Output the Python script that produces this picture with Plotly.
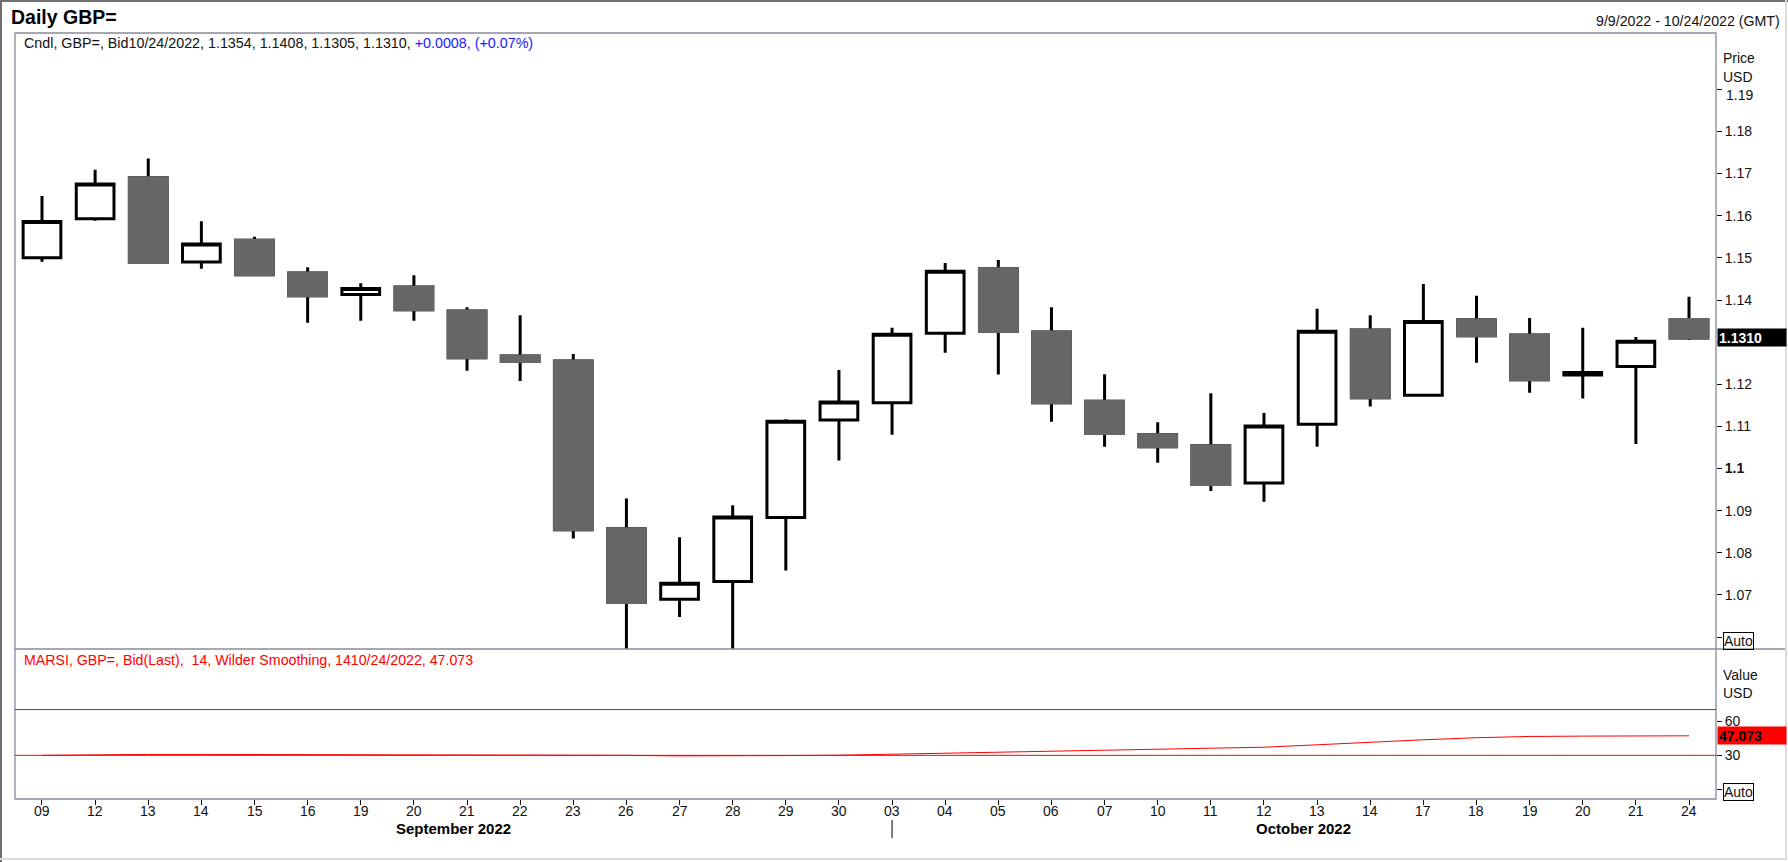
import plotly.graph_objects as go

W, H = 1788, 862

# ---------------- data ----------------
dates = ["2022-09-09", "2022-09-12", "2022-09-13", "2022-09-14", "2022-09-15", "2022-09-16",
         "2022-09-19", "2022-09-20", "2022-09-21", "2022-09-22", "2022-09-23", "2022-09-26",
         "2022-09-27", "2022-09-28", "2022-09-29", "2022-09-30", "2022-10-03", "2022-10-04",
         "2022-10-05", "2022-10-06", "2022-10-07", "2022-10-10", "2022-10-11", "2022-10-12",
         "2022-10-13", "2022-10-14", "2022-10-17", "2022-10-18", "2022-10-19", "2022-10-20",
         "2022-10-21", "2022-10-24"]
day_labels = ["09", "12", "13", "14", "15", "16", "19", "20", "21", "22", "23", "26", "27", "28",
              "29", "30", "03", "04", "05", "06", "07", "10", "11", "12", "13", "14", "17", "18",
              "19", "20", "21", "24"]
open_ = [1.1500, 1.1593, 1.1690, 1.1490, 1.1542, 1.1464, 1.1413, 1.1431, 1.1374, 1.1267, 1.1255,
         1.0857, 1.0690, 1.0732, 1.0884, 1.1115, 1.1156, 1.1321, 1.1474, 1.1324, 1.1160, 1.1080,
         1.1054, 1.0966, 1.1105, 1.1329, 1.1174, 1.1353, 1.1317, 1.1222, 1.1242, 1.1354]
high = [1.1647, 1.1709, 1.1736, 1.1587, 1.1550, 1.1478, 1.1440, 1.1459, 1.1383, 1.1364, 1.1272,
        1.0929, 1.0837, 1.0913, 1.1117, 1.1234, 1.1334, 1.1488, 1.1495, 1.1383, 1.1224, 1.1110,
        1.1179, 1.1132, 1.1379, 1.1364, 1.1438, 1.1410, 1.1357, 1.1334, 1.1312, 1.1408]
low = [1.1491, 1.1588, 1.1486, 1.1474, 1.1458, 1.1346, 1.1351, 1.1351, 1.1232, 1.1208, 1.0834,
       1.0350, 1.0648, 1.0540, 1.0758, 1.1019, 1.1080, 1.1275, 1.1223, 1.1111, 1.1052, 1.1014,
       1.0947, 1.0921, 1.1052, 1.1147, 1.1172, 1.1251, 1.1180, 1.1166, 1.1058, 1.1305]
close = [1.1586, 1.1675, 1.1489, 1.1533, 1.1460, 1.1410, 1.1427, 1.1377, 1.1263, 1.1254, 1.0855,
         1.0682, 1.0728, 1.0885, 1.1112, 1.1158, 1.1319, 1.1468, 1.1325, 1.1156, 1.1083, 1.1052,
         1.0962, 1.1101, 1.1326, 1.1168, 1.1349, 1.1315, 1.1211, 1.1228, 1.1302, 1.1310]
rsi = [30.0, 30.6, 30.8, 30.8, 30.7, 30.7, 30.6, 30.6, 30.5, 30.5, 30.4, 30.0, 29.5, 29.4, 29.8,
       30.1, 30.9, 31.7, 32.6, 33.5, 34.4, 35.2, 36.1, 37.1, 39.2, 41.6, 43.6, 45.4, 46.5, 46.8,
       46.95, 47.073]
rsi_bands = [30, 70]
price_ticks = [1.06, 1.07, 1.08, 1.09, 1.10, 1.11, 1.12, 1.13, 1.14, 1.15, 1.16, 1.17, 1.18, 1.19]
rsi_ticks = [0, 30, 60]
months = [("September 2022", 7.75), ("October 2022", 23.75)]

FONT = "Liberation Sans, Arial, sans-serif"
BORDER = "#8a8a9a"
GRAY = "#666666"
TXT = "#111111"


def px(x):
    return x / W


def py(y):
    return 1 - y / H


fig = go.Figure()

# all candles: black outlines / wicks
fig.add_trace(go.Candlestick(
    x=dates, open=open_, high=high, low=low, close=close,
    xaxis="x", yaxis="y", whiskerwidth=0, hoverinfo="skip",
    increasing=dict(line=dict(color="black", width=3), fillcolor="white"),
    decreasing=dict(line=dict(color="black", width=3), fillcolor=GRAY),
))
# grey bodies of falling candles drawn over the black outline
dn = [i for i in range(len(dates)) if close[i] < open_[i]]
fig.add_trace(go.Candlestick(
    x=[dates[i] for i in dn], open=[open_[i] for i in dn], close=[close[i] for i in dn],
    high=[open_[i] for i in dn], low=[close[i] for i in dn],
    xaxis="x", yaxis="y", whiskerwidth=0, hoverinfo="skip",
    increasing=dict(line=dict(color=GRAY, width=3), fillcolor=GRAY),
    decreasing=dict(line=dict(color=GRAY, width=3), fillcolor=GRAY),
))

fig.add_trace(go.Scatter(x=dates, y=rsi, mode="lines", xaxis="x2", yaxis="y2",
                         line=dict(color="#ff0000", width=1), hoverinfo="skip"))

xrange = [-0.508, len(dates) - 1 + 0.508]
xdom = [px(15), px(1716)]

last = len(dates) - 1

# price tick labels: first tick is the "Auto" box, top tick is drawn separately (shifted down),
# the tick under the last-price box is hidden by it
price_text = []
for v in price_ticks:
    if abs(v - price_ticks[0]) < 1e-9 or abs(v - price_ticks[-1]) < 1e-9:
        price_text.append("")
    elif abs(v - round(close[last], 2)) < 1e-9:
        price_text.append("")
    elif abs(v - 1.10) < 1e-9:
        price_text.append("<b>1.1</b>")
    else:
        price_text.append(f"{v:.2f}")

rsi_text = ["" if v == 0 else str(v) for v in rsi_ticks]

axfont = dict(family=FONT, size=14, color=TXT)

fig.update_layout(
    width=W, height=H, margin=dict(l=0, r=0, t=0, b=0),
    paper_bgcolor="white", plot_bgcolor="white", showlegend=False,
    font=dict(family=FONT, size=14, color=TXT),
    boxgap=0.29, boxgroupgap=0,
    xaxis=dict(type="category", categoryorder="array", categoryarray=dates, range=xrange,
               domain=xdom, anchor="y", showticklabels=False, ticks="", showgrid=False,
               zeroline=False, showline=False, rangeslider=dict(visible=False), fixedrange=True),
    yaxis=dict(domain=[py(649), py(33)], range=[1.05718, 1.20336], side="right", anchor="x",
               tickmode="array", tickvals=price_ticks, ticktext=price_text, ticks="outside",
               ticklen=5, tickwidth=1, tickcolor=TXT, tickfont=axfont, showgrid=False,
               zeroline=False, showline=False, fixedrange=True),
    xaxis2=dict(type="category", categoryorder="array", categoryarray=dates, range=xrange,
                domain=xdom, anchor="y2", tickmode="array", tickvals=dates,
                ticktext=[""] * len(dates), ticks="outside", ticklen=5, tickwidth=1,
                tickcolor=TXT, showgrid=False, zeroline=False, showline=False, fixedrange=True),
    yaxis2=dict(domain=[py(799), py(649)], range=[-8.2, 123], side="right", anchor="x2",
                tickmode="array", tickvals=rsi_ticks, ticktext=rsi_text, ticks="outside",
                ticklen=5, tickwidth=1, tickcolor=TXT, tickfont=axfont, showgrid=False,
                zeroline=False, showline=False, fixedrange=True),
)

shapes = [
    # panel frame
    dict(type="rect", xref="paper", yref="paper", x0=px(15), x1=px(1716), y0=py(799), y1=py(33),
         line=dict(color=BORDER, width=1.3), layer="above"),
    dict(type="line", xref="paper", yref="paper", x0=px(15), x1=px(1785), y0=py(649), y1=py(649),
         line=dict(color=BORDER, width=1.3), layer="above"),
    # outer window border
    dict(type="line", xref="paper", yref="paper", x0=0, x1=1, y0=py(1), y1=py(1),
         line=dict(color="#707070", width=2)),
    dict(type="line", xref="paper", yref="paper", x0=px(1), x1=px(1), y0=0, y1=1,
         line=dict(color="#707070", width=2)),
    dict(type="line", xref="paper", yref="paper", x0=px(1786), x1=px(1786), y0=py(859), y1=1,
         line=dict(color="#dcdcdc", width=2)),
    dict(type="line", xref="paper", yref="paper", x0=0, x1=px(1787), y0=py(859), y1=py(859),
         line=dict(color="#dcdcdc", width=2)),
    # month separator tick
    dict(type="line", xref="x2", yref="paper", x0=dates[day_labels.index("03")],
         x1=dates[day_labels.index("03")], y0=py(820), y1=py(838),
         line=dict(color="black", width=1)),
]
for b in rsi_bands:
    shapes.append(dict(type="line", xref="x2 domain", yref="y2", x0=0, x1=1, y0=b, y1=b,
                       line=dict(color="#ff0000", width=1)))
fig.update_layout(shapes=shapes)

chg = close[last] - close[last - 1]
pct = chg / close[last - 1] * 100
sub = (f"Cndl, GBP=, Bid10/24/2022, {open_[last]:.4f}, {high[last]:.4f}, {low[last]:.4f}, "
       f"{close[last]:.4f}, <span style='color:#1a1aff'>{chg:+.4f}, ({pct:+.2f}%)</span>")
rsi_lbl = f"MARSI, GBP=, Bid(Last),&nbsp; 14, Wilder Smoothing, 1410/24/2022, {rsi[last]:.3f}"

ann = []


def text(t, x, y, size=14, color=TXT, xanchor="left", **kw):
    ann.append(dict(text=t, x=px(x), y=py(y), xref="paper", yref="paper", showarrow=False,
                    xanchor=xanchor, yanchor="middle", font=dict(family=FONT, size=size, color=color),
                    **kw))


text("<b>Daily GBP=</b>", 9, 17, size=19.5, color="black")
text(sub, 22, 43, size=14.3)
text("9/9/2022 - 10/24/2022 (GMT)", 1782, 21, size=14.2, xanchor="right")
text("Price", 1721, 58)
text("USD", 1721, 77)
text(f"{price_ticks[-1]:.2f}", 1724, 95)
text("Value", 1721, 675)
text("USD", 1721, 693)
text(rsi_lbl, 22, 660, size=14.2, color="#ff0000")
text("Auto", 1723, 640.5, bordercolor="black", borderwidth=1, borderpad=0)
text("Auto", 1723, 791.5, bordercolor="black", borderwidth=1, borderpad=0)

# last-value boxes
ann.append(dict(text=f"<b>{close[last]:.4f}</b>", x=px(1717), y=close[last], xref="paper", yref="y",
                showarrow=False, xanchor="left", yanchor="middle", bgcolor="black", width=66,
                height=15, align="left", font=dict(family=FONT, size=14, color="white")))
ann.append(dict(text=f"<b>{rsi[last]:.3f}</b>", x=px(1717), y=rsi[last], xref="paper", yref="y2",
                showarrow=False, xanchor="left", yanchor="middle", bgcolor="#ff0000", width=66,
                height=15, align="left", font=dict(family=FONT, size=14, color="black")))

# day labels under the lower panel
for i, lbl in enumerate(day_labels):
    ann.append(dict(text=lbl, x=i, y=py(810.5), xref="x2", yref="paper", showarrow=False,
                    xanchor="center", yanchor="middle", font=dict(family=FONT, size=14, color=TXT)))

for name, pos in months:
    ann.append(dict(text=f"<b>{name}</b>", x=pos, y=py(828), xref="x2", yref="paper",
                    showarrow=False, xanchor="center", yanchor="middle",
                    font=dict(family=FONT, size=15, color="black")))

fig.update_layout(annotations=ann)

fig.write_html("out.html", config={"displayModeBar": False, "staticPlot": True},
               post_script="document.body.style.margin='0';document.body.style.overflow='hidden';")
